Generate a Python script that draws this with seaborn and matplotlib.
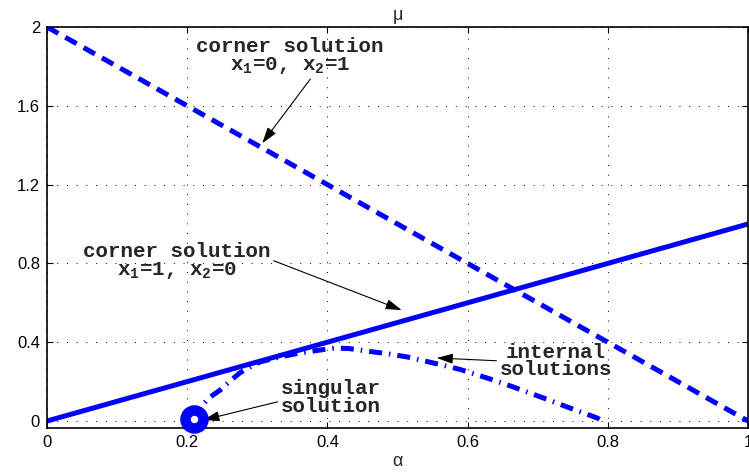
import matplotlib
matplotlib.use("Agg")
import matplotlib.pyplot as plt
import seaborn as sns
import pandas as pd

# ---- data ----
alpha_line = [0.0, 1.0]
mu_corner_x1_0 = [2.0, 0.0]   # corner solution x1=0, x2=1
mu_corner_x1_1 = [0.0, 1.0]   # corner solution x1=1, x2=0

alpha_internal = [0.21, 0.213, 0.22, 0.232, 0.247, 0.262, 0.275, 0.29, 0.304, 0.332,
                  0.36, 0.389, 0.41, 0.43, 0.456, 0.485, 0.514, 0.542, 0.565, 0.589,
                  0.628, 0.665, 0.708, 0.746, 0.785, 0.792]
mu_internal = [0.01, 0.04, 0.075, 0.12, 0.157, 0.205, 0.244, 0.275, 0.30, 0.325,
               0.345, 0.36, 0.37, 0.368, 0.355, 0.342, 0.325, 0.302, 0.283, 0.262,
               0.218, 0.173, 0.117, 0.066, 0.015, 0.0]

alpha_singular = [0.21]
mu_singular = [0.01]

xticks = [0, 0.2, 0.4, 0.6, 0.8, 1]
xticklabels = ["0", "0.2", "0.4", "0.6", "0.8", "1"]
yticks = [0, 0.4, 0.8, 1.2, 1.6, 2]
yticklabels = ["0", "0.4", "0.8", "1.2", "1.6", "2"]

# ---- style ----
sns.set_theme(style="white")
plt.rcParams["font.family"] = ["Liberation Sans", "DejaVu Sans"]
plt.rcParams["mathtext.fontset"] = "custom"
plt.rcParams["mathtext.rm"] = "Liberation Mono:bold"
plt.rcParams["mathtext.it"] = "Liberation Mono:bold"
plt.rcParams["mathtext.bf"] = "Liberation Mono:bold"

BLUE = "#0000FF"
LW = 3.6

fig = plt.figure(figsize=(7.49, 4.73), dpi=100)
ax = fig.add_axes([47 / 749, 45 / 473, 701 / 749, 401 / 473])

df_lines = pd.DataFrame({"alpha": alpha_line, "c01": mu_corner_x1_0, "c10": mu_corner_x1_1})
df_int = pd.DataFrame({"alpha": alpha_internal, "mu": mu_internal})

sns.lineplot(data=df_lines, x="alpha", y="c01", ax=ax, color=BLUE, lw=LW)
ax.lines[-1].set_dashes((2.6, 1.6))
ax.lines[-1].set_dash_capstyle("butt")
sns.lineplot(data=df_lines, x="alpha", y="c10", ax=ax, color=BLUE, lw=LW)
sns.lineplot(data=df_int, x="alpha", y="mu", ax=ax, color=BLUE, lw=LW, sort=False)
ax.lines[-1].set_dashes((2.6, 1.4, 0.3, 1.4))
ax.lines[-1].set_dash_capstyle("butt")

sns.scatterplot(x=alpha_singular, y=mu_singular, ax=ax, marker="o", s=170,
                facecolor="white", edgecolor=BLUE, linewidth=7.5, zorder=5, clip_on=False)

ax.set_xlim(0, 1)
ax.set_ylim(-0.0355, 2)
ax.set_xticks(xticks)
ax.set_xticklabels(xticklabels)
ax.set_yticks(yticks)
ax.set_yticklabels(yticklabels)
ax.tick_params(direction="in", length=4, width=0.8, labelsize=12, colors="black",
               top=True, right=True, bottom=True, left=True, pad=5)
for s in ax.spines.values():
    s.set_visible(True)
    s.set_color("black")
    s.set_linewidth(1.2)

ax.grid(True, color="black", linestyle=(0, (1, 9)), linewidth=0.7)
ax.set_axisbelow(True)

ax.set_title("\u03bc", fontsize=13, pad=5)
ax.set_xlabel("\u03b1", fontsize=13, labelpad=2)
ax.set_ylabel("")

tfont = dict(family=["Liberation Mono", "DejaVu Sans Mono"], weight="bold", fontsize=15,
             ha="center", va="center", linespacing=0.9)


def aprops(relpos=(0.5, 0.5)):
    return dict(arrowstyle="-|>,head_length=0.7,head_width=0.22", color="black", lw=0.8,
                mutation_scale=14, shrinkA=0, shrinkB=0, relpos=relpos)


ax.annotate("corner solution\nx$_1$=0, x$_2$=1", xy=(0.307, 1.41), xytext=(0.347, 1.85),
            textcoords="data", arrowprops=aprops((0.62, 0.0)), **tfont)
ax.annotate("corner solution\nx$_1$=1, x$_2$=0", xy=(0.506, 0.563), xytext=(0.185, 0.81),
            textcoords="data", arrowprops=aprops((1.0, 0.55)), **tfont)
ax.annotate("internal\nsolutions", xy=(0.556, 0.32), xytext=(0.726, 0.305),
            textcoords="data", arrowprops=aprops((0.0, 0.5)), **tfont)
ax.annotate("singular\nsolution", xy=(0.223, 0.005), xytext=(0.405, 0.12),
            textcoords="data", arrowprops=aprops((0.0, 0.4)), **tfont)

fig.savefig("out.png", dpi=100)
